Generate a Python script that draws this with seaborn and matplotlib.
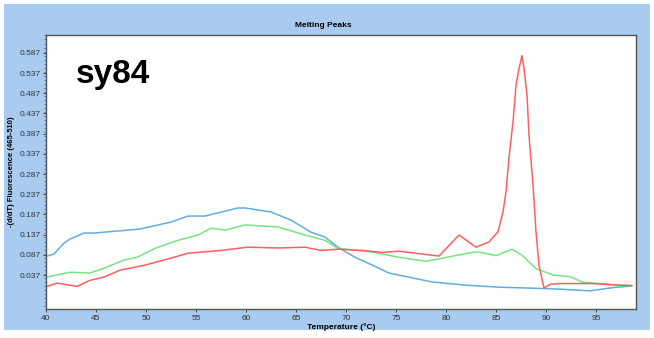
import pandas as pd
import numpy as np
import matplotlib
matplotlib.use("Agg")
import matplotlib.pyplot as plt
import seaborn as sns
from matplotlib.ticker import MultipleLocator

# curve values (temperature in C, -dF/dT)
blue_temp = [40.1, 40.8, 41.8, 42.4, 43.8, 44.8, 48.1, 49.4, 52.5, 54.2, 55.9, 59.2, 59.9,
             62.5, 64.5, 66.5, 67.9, 69.2, 70.9, 72.6, 74.3, 78.6, 82.0, 85.3, 89.3, 91.4,
             94.4, 96.7, 98.6]
blue_val = [0.084, 0.089, 0.116, 0.126, 0.141, 0.141, 0.148, 0.151, 0.168, 0.183, 0.183, 0.203,
            0.203, 0.193, 0.173, 0.143, 0.131, 0.106, 0.081, 0.062, 0.042, 0.020, 0.012, 0.007,
            0.004, 0.002, -0.002, 0.006, 0.010]

green_temp = [40.1, 42.4, 44.4, 45.8, 47.8, 49.1, 50.9, 53.2, 55.2, 56.5, 57.9, 59.9, 63.2,
              65.9, 67.9, 69.2, 72.6, 75.3, 78.0, 82.6, 83.3, 85.0, 86.6, 87.6, 89.0, 90.7,
              92.4, 93.7, 97.0, 98.6]
green_val = [0.032, 0.044, 0.042, 0.054, 0.074, 0.081, 0.103, 0.123, 0.136, 0.153, 0.148, 0.161,
             0.156, 0.136, 0.123, 0.103, 0.094, 0.081, 0.071, 0.093, 0.094, 0.085, 0.101, 0.086,
             0.053, 0.037, 0.033, 0.019, 0.013, 0.011]

red_temp = [40.1, 41.1, 43.1, 44.4, 45.8, 47.4, 49.8, 52.5, 54.2, 57.5, 60.2, 63.2, 65.9,
            67.5, 69.2, 71.6, 73.6, 75.3, 78.6, 79.3, 81.3, 83.0, 84.3, 85.2, 85.7, 86.0,
            86.3, 86.7, 87.0, 87.3, 87.6, 87.8, 88.1, 88.3, 88.7, 89.0, 89.3, 89.8, 90.4,
            91.4, 94.7, 97.1, 98.6]
red_val = [0.009, 0.017, 0.009, 0.024, 0.032, 0.049, 0.061, 0.079, 0.091, 0.098, 0.106, 0.104,
           0.106, 0.098, 0.101, 0.098, 0.093, 0.096, 0.086, 0.084, 0.136, 0.106, 0.119, 0.144,
           0.193, 0.243, 0.327, 0.416, 0.507, 0.548, 0.580, 0.548, 0.482, 0.383, 0.260, 0.144,
           0.061, 0.005, 0.014, 0.016, 0.016, 0.012, 0.011]

y_ticks = [0.037, 0.087, 0.137, 0.187, 0.237, 0.287, 0.337, 0.387, 0.437, 0.487, 0.537, 0.587]
x_ticks = [40, 45, 50, 55, 60, 65, 70, 75, 80, 85, 90, 95]

df = pd.concat([
    pd.DataFrame({"temp": blue_temp, "val": blue_val, "curve": "blue"}),
    pd.DataFrame({"temp": green_temp, "val": green_val, "curve": "green"}),
    pd.DataFrame({"temp": red_temp, "val": red_val, "curve": "red"}),
])

sns.set_style("white")
plt.rcParams['font.family'] = ['Liberation Sans', 'DejaVu Sans']
plt.rcParams['text.color'] = 'black'

fig = plt.figure(figsize=(6.54, 3.38), dpi=100, facecolor="white")
# light blue panel behind the plot
fig.patches.append(plt.Rectangle((0.006, 0.025), 0.988, 0.963, transform=fig.transFigure,
                                 facecolor="#A9CBF0", edgecolor="none", zorder=-10))
ax = fig.add_axes([0.0703, 0.0858, 0.9022, 0.8106])
ax.set_zorder(5)
ax.set_facecolor("white")

sns.lineplot(data=df, x="temp", y="val", hue="curve", sort=False, estimator=None,
             palette={"blue": "#62AEDD", "green": "#78E386", "red": "#FF5F5F"},
             linewidth=1.1, legend=False, ax=ax)

ax.set_xlim(40, 99)
ax.set_ylim(-0.047, 0.631)
ax.set_xticks(x_ticks)
ax.set_yticks(y_ticks)
ax.set_yticklabels([f"{t:.3f}" for t in y_ticks])
ax.yaxis.set_minor_locator(MultipleLocator(0.01))
ax.tick_params(axis="both", which="major", labelsize=6, length=2.5, width=0.6,
               colors="#333333", pad=1.5, direction="out")
ax.tick_params(axis="y", which="minor", length=1.2, width=0.5, colors="#555555", left=True)
ax.tick_params(axis="x", bottom=True)
ax.tick_params(axis="y", left=True)
for s in ax.spines.values():
    s.set_color("#555555")
    s.set_linewidth(1.0)

ax.set_xlabel("Temperature (°C)", fontsize=6, fontweight="bold", labelpad=1, color="black")
ax.set_ylabel("-(d/dT) Fluorescence (465-510)", fontsize=5.5, fontweight="bold", labelpad=3,
              color="black")
fig.text(0.495, 0.925, "Melting Peaks", fontsize=6, fontweight="bold", ha="center", va="center")
fig.text(0.116, 0.755, "sy84", fontsize=24, fontweight="bold", ha="left", va="baseline",
         zorder=10)

fig.savefig("out.png", dpi=100, facecolor=fig.get_facecolor())
